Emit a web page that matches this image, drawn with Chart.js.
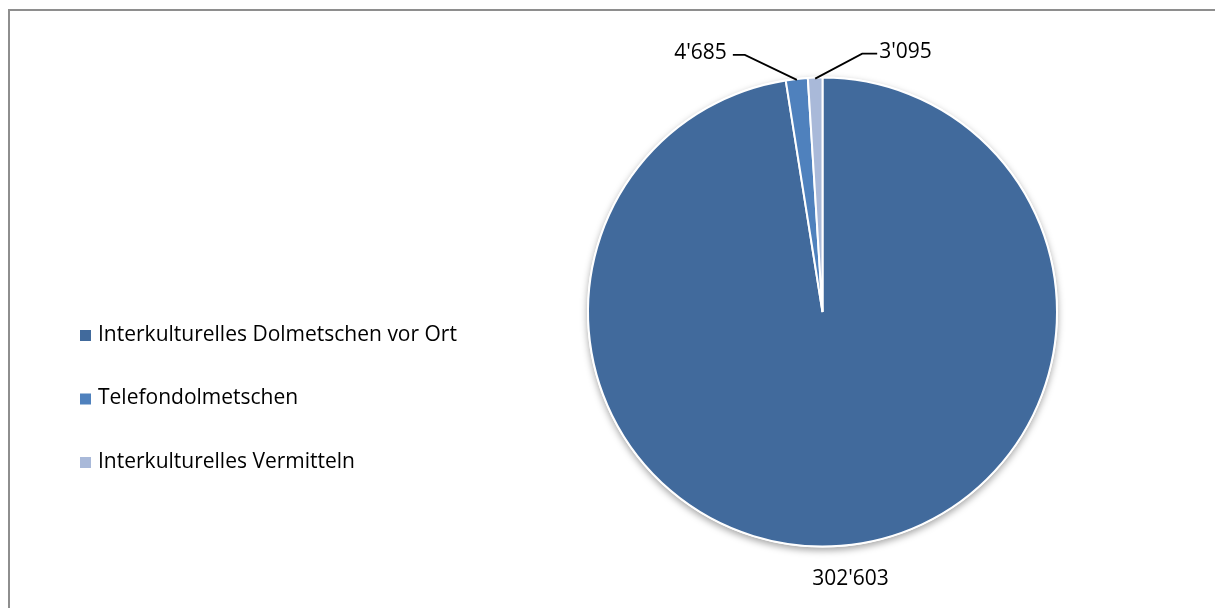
<!DOCTYPE html>
<html>
<head>
<meta charset="utf-8">
<style>
  html, body { margin: 0; padding: 0; background: #fff; }
  #wrap { width: 1215px; height: 608px; }
</style>
<script src="https://cdn.jsdelivr.net/npm/chart.js@4/dist/chart.umd.min.js"></script>
</head>
<body>
<div id="wrap"><canvas id="myChart" width="1215" height="608"></canvas></div>
<script>
const categories = [
  "Interkulturelles Dolmetschen vor Ort",
  "Telefondolmetschen",
  "Interkulturelles Vermitteln",
];
const hours = [302603, 4685, 3095];
const valueLabels = ["302'603", "4'685", "3'095"];
const colors = ["#416a9c", "#4f81bd", "#a9b9d9"];

const FONT = '21px "Open Sans", "Noto Sans", sans-serif';

// outer frame of the chart
const framePlugin = {
  id: "frame",
  beforeDraw(chart) {
    const ctx = chart.ctx;
    ctx.save();
    ctx.strokeStyle = "#8e8e8e";
    ctx.lineWidth = 2;
    ctx.strokeRect(9, 10, 1400, 800);
    ctx.restore();
  },
};

// soft shadow under the pie
const shadowPlugin = {
  id: "pieShadow",
  beforeDatasetsDraw(chart) {
    const arc = chart.getDatasetMeta(0).data[0];
    if (!arc) return;
    const ctx = chart.ctx;
    ctx.save();
    ctx.shadowColor = "rgba(0,0,0,0.35)";
    ctx.shadowBlur = 7;
    ctx.shadowOffsetY = 3;
    ctx.fillStyle = "#fff";
    ctx.beginPath();
    ctx.arc(arc.x, arc.y, arc.outerRadius + 1, 0, Math.PI * 2);
    ctx.fill();
    ctx.restore();
  },
};

// value labels, with leader lines for the thin slices
const labelPlugin = {
  id: "valueLabels",
  afterDatasetsDraw(chart) {
    const ctx = chart.ctx;
    const meta = chart.getDatasetMeta(0);
    ctx.save();
    ctx.font = FONT;
    ctx.fillStyle = "#000";
    ctx.strokeStyle = "#000";
    ctx.lineWidth = 1.8;
    meta.data.forEach((arc, i) => {
      const mid = (arc.startAngle + arc.endAngle) / 2;
      const r = arc.outerRadius;
      if (i === 0) {
        const x = arc.x + Math.cos(mid) * (r + 33);
        const y = arc.y + Math.sin(mid) * (r + 33);
        ctx.textAlign = "center";
        ctx.textBaseline = "middle";
        ctx.fillText(valueLabels[i], x + 7, y);
        return;
      }
      const ex = arc.x + Math.cos(mid) * (r - 1);
      const ey = arc.y + Math.sin(mid) * (r - 1);
      const left = i === 1;
      const kx = left ? ex - 52 : ex + 47;
      const ky = ey - 25;
      const tx = left ? kx - 12 : kx + 15;
      ctx.beginPath();
      ctx.moveTo(ex, ey);
      ctx.lineTo(kx, ky);
      ctx.lineTo(tx, ky);
      ctx.stroke();
      ctx.textAlign = left ? "right" : "left";
      ctx.textBaseline = "middle";
      ctx.fillText(valueLabels[i], left ? tx - 6 : tx + 2, ky - 2);
    });
    ctx.restore();
  },
};

// legend on the left side
const legendPlugin = {
  id: "sideLegend",
  afterDraw(chart) {
    const ctx = chart.ctx;
    const ds = chart.data.datasets[0];
    ctx.save();
    ctx.font = FONT;
    ctx.textAlign = "left";
    ctx.textBaseline = "middle";
    chart.data.labels.forEach((label, i) => {
      const y = 335 + i * 63.5;
      ctx.fillStyle = ds.backgroundColor[i];
      ctx.fillRect(80, y - 5, 11, 11);
      ctx.fillStyle = "#000";
      ctx.fillText(label, 98, y);
    });
    ctx.restore();
  },
};

new Chart(document.getElementById("myChart").getContext("2d"), {
  type: "pie",
  data: {
    labels: categories,
    datasets: [
      {
        data: hours,
        backgroundColor: colors,
        borderColor: "#ffffff",
        borderWidth: 2,
      },
    ],
  },
  options: {
    responsive: false,
    animation: false,
    layout: { padding: { left: 587, top: 76, right: 157, bottom: 60 } },
    plugins: {
      legend: { display: false },
      tooltip: { enabled: false },
    },
  },
  plugins: [framePlugin, shadowPlugin, labelPlugin, legendPlugin],
});
</script>
</body>
</html>
